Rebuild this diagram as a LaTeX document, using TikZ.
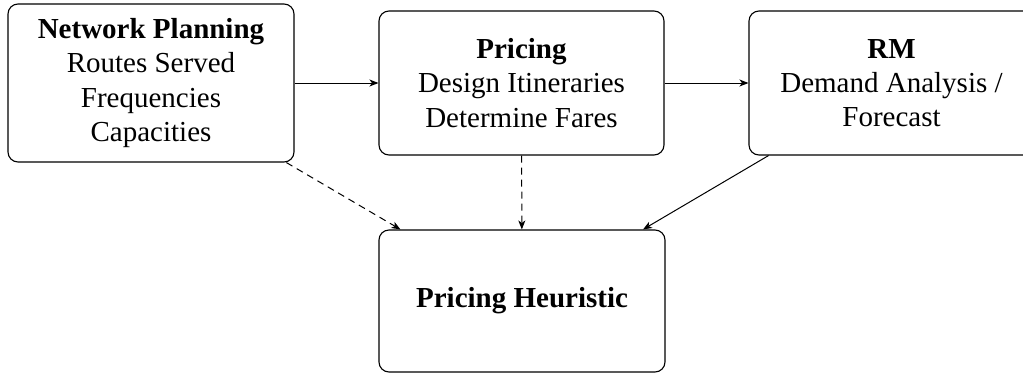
\documentclass[tikz,border=0pt]{standalone}
\usepackage{fontspec}
\setmainfont{Liberation Serif}
\usetikzlibrary{arrows.meta}
\begin{document}
\begin{tikzpicture}[x=1pt,y=-1pt,
  box/.style={draw, line width=1.1pt, rounded corners=10pt, align=center,
    font=\fontsize{29}{34.3}\selectfont, inner sep=0pt},
  conn/.style={line width=1pt, -{Stealth[length=9pt,width=7pt,inset=2.5pt]}},
  dconn/.style={conn, dash pattern=on 7pt off 5pt}]
\useasboundingbox (0,0) rectangle (1023,373);
\clip (0,0) rectangle (1023,373);
\node[box, minimum width=286pt, minimum height=158pt] (np) at (151,83)
  {\textbf{Network Planning}\\Routes Served\\Frequencies\\Capacities};
\node[box, minimum width=285pt, minimum height=144pt] (pr) at (521.5,83)
  {\textbf{Pricing}\\Design Itineraries\\Determine Fares};
\node[box, minimum width=285pt, minimum height=144pt] (rm) at (891.5,83)
  {\textbf{RM}\\Demand Analysis /\\Forecast};
\node[box, minimum width=286pt, minimum height=142pt] (ph) at (522,301)
  {\textbf{Pricing Heuristic}};
\draw[conn] (np) -- (pr);
\draw[conn] (pr) -- (rm);
\draw[dconn] (np) -- (ph);
\draw[dconn] (pr) -- (ph);
\draw[conn] (rm) -- (ph);
\end{tikzpicture}
\end{document}
